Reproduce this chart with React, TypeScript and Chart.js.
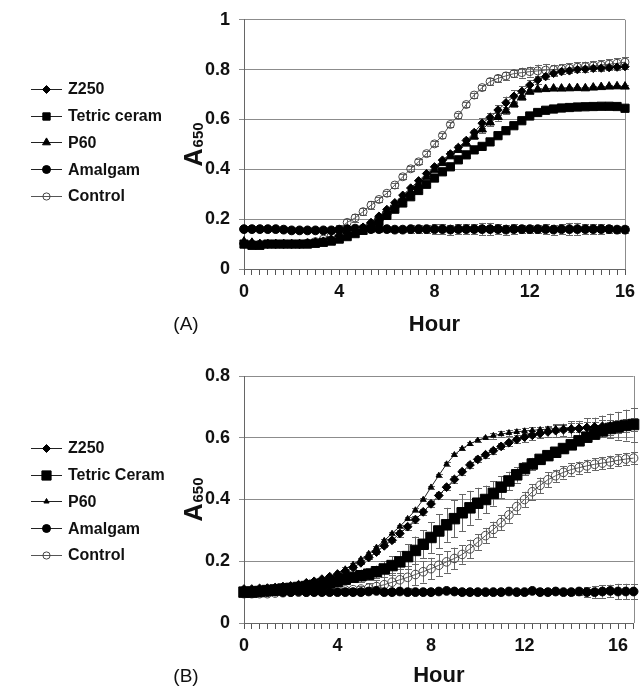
import React, { useEffect, useRef } from 'react';
import { Chart, registerables } from 'chart.js';

Chart.register(...registerables);

const FONT = "'Liberation Sans', Arial, Helvetica, sans-serif";

// ---------- categories / ticks ----------
const HOURS_A = Array.from({ length: 49 }, (_, i) => i / 3);
const HOURS_B = Array.from({ length: 51 }, (_, i) => i / 3);
const X_LABELS = [0, 4, 8, 12, 16];
const Y_TICKS_A = [0, 0.2, 0.4, 0.6, 0.8, 1];
const Y_TICKS_B = [0, 0.2, 0.4, 0.6, 0.8];
const SERIES_A = ['Z250', 'Tetric ceram', 'P60', 'Amalgam', 'Control'];
const SERIES_B = ['Z250', 'Tetric Ceram', 'P60', 'Amalgam', 'Control'];

// ---------- panel A values ----------
const Z250_A = [0.105,0.105,0.10,0.10,0.10,0.10,0.10,0.10,0.105,0.108,0.112,0.12,0.133,0.145,0.156,0.168,0.187,0.212,0.239,0.266,0.296,0.325,0.354,0.383,0.41,0.437,0.462,0.488,0.516,0.548,0.585,0.608,0.638,0.667,0.693,0.713,0.738,0.758,0.772,0.785,0.792,0.795,0.80,0.802,0.805,0.806,0.808,0.81,0.812];
const TETRIC_A = [0.10,0.095,0.095,0.10,0.10,0.10,0.10,0.10,0.10,0.103,0.107,0.112,0.12,0.13,0.142,0.155,0.17,0.19,0.215,0.24,0.265,0.29,0.315,0.34,0.365,0.39,0.41,0.438,0.458,0.478,0.492,0.51,0.535,0.555,0.575,0.595,0.614,0.628,0.637,0.642,0.646,0.648,0.65,0.651,0.652,0.653,0.653,0.652,0.645];
const P60_A = [0.11,0.105,0.10,0.10,0.10,0.10,0.10,0.10,0.10,0.105,0.108,0.115,0.125,0.137,0.15,0.163,0.18,0.203,0.228,0.255,0.283,0.31,0.34,0.37,0.398,0.425,0.452,0.478,0.505,0.532,0.56,0.588,0.61,0.635,0.662,0.69,0.712,0.72,0.722,0.724,0.724,0.725,0.726,0.725,0.728,0.73,0.732,0.733,0.732];
const AMALGAM_A = [0.16,0.16,0.16,0.16,0.16,0.158,0.155,0.155,0.155,0.155,0.155,0.155,0.157,0.16,0.162,0.162,0.16,0.16,0.16,0.158,0.158,0.16,0.16,0.16,0.16,0.16,0.158,0.16,0.16,0.16,0.16,0.16,0.16,0.158,0.16,0.16,0.16,0.16,0.16,0.158,0.16,0.16,0.16,0.16,0.16,0.16,0.16,0.158,0.158];
const CONTROL_A = [0.10,0.10,0.10,0.10,0.10,0.10,0.10,0.10,0.105,0.11,0.12,0.135,0.16,0.187,0.205,0.23,0.256,0.279,0.304,0.337,0.37,0.402,0.43,0.463,0.502,0.536,0.58,0.617,0.66,0.698,0.728,0.752,0.765,0.775,0.784,0.788,0.792,0.795,0.798,0.80,0.803,0.806,0.81,0.812,0.815,0.818,0.822,0.825,0.83];

const ERR_Z250_A = [0.005,0.005,0.005,0.005,0.005,0.005,0.005,0.005,0.005,0.005,0.005,0.005,0.005,0.005,0.005,0.005,0.005,0.005,0.005,0.005,0.005,0.005,0.005,0.005,0.005,0.005,0.01,0.01,0.01,0.01,0.02,0.02,0.02,0.025,0.025,0.02,0.02,0.015,0.01,0.01,0.01,0.01,0.01,0.01,0.01,0.01,0.01,0.01,0.01];
const ERR_TETRIC_A = [0.005,0.005,0.005,0.005,0.005,0.005,0.005,0.005,0.005,0.005,0.005,0.005,0.005,0.005,0.005,0.005,0.005,0.005,0.005,0.005,0.005,0.005,0.005,0.005,0.005,0.005,0.005,0.005,0.01,0.01,0.01,0.01,0.01,0.01,0.005,0.005,0.005,0.005,0.005,0.005,0.005,0.005,0.005,0.005,0.005,0.005,0.005,0.005,0.005];
const ERR_P60_A = [0.005,0.005,0.005,0.005,0.005,0.005,0.005,0.005,0.005,0.005,0.005,0.005,0.005,0.005,0.005,0.005,0.005,0.005,0.005,0.005,0.005,0.005,0.005,0.005,0.005,0.005,0.005,0.01,0.01,0.01,0.015,0.015,0.015,0.015,0.01,0.01,0.01,0.005,0.005,0.005,0.005,0.005,0.005,0.005,0.005,0.005,0.005,0.005,0.005];
const ERR_AMALGAM_A = [0.005,0.005,0.005,0.005,0.005,0.005,0.005,0.005,0.005,0.005,0.005,0.005,0.005,0.005,0.005,0.005,0.01,0.01,0.01,0.01,0.01,0.015,0.015,0.015,0.02,0.02,0.02,0.02,0.02,0.02,0.025,0.025,0.02,0.02,0.02,0.015,0.015,0.015,0.02,0.02,0.02,0.025,0.025,0.02,0.02,0.02,0.015,0.015,0.015];
const ERR_CONTROL_A = [0.005,0.005,0.005,0.005,0.005,0.005,0.005,0.005,0.005,0.005,0.005,0.01,0.015,0.015,0.015,0.015,0.015,0.01,0.01,0.01,0.01,0.01,0.01,0.01,0.01,0.01,0.01,0.01,0.01,0.01,0.01,0.015,0.015,0.015,0.015,0.02,0.02,0.025,0.025,0.02,0.02,0.02,0.02,0.02,0.02,0.02,0.02,0.02,0.02];

// ---------- panel B values ----------
const Z250_B = [0.11,0.11,0.112,0.113,0.115,0.118,0.12,0.124,0.13,0.135,0.142,0.15,0.158,0.168,0.18,0.195,0.212,0.23,0.25,0.268,0.29,0.312,0.335,0.36,0.386,0.413,0.44,0.465,0.49,0.512,0.53,0.545,0.558,0.572,0.584,0.594,0.602,0.608,0.614,0.619,0.623,0.626,0.628,0.63,0.633,0.635,0.637,0.638,0.639,0.641,0.642];
const TETRIC_B = [0.10,0.10,0.102,0.105,0.107,0.11,0.112,0.115,0.118,0.122,0.126,0.13,0.135,0.142,0.148,0.153,0.158,0.166,0.175,0.186,0.198,0.215,0.235,0.255,0.277,0.298,0.318,0.338,0.357,0.373,0.388,0.40,0.42,0.44,0.46,0.48,0.50,0.515,0.53,0.542,0.553,0.565,0.577,0.59,0.602,0.612,0.622,0.63,0.635,0.64,0.643];
const P60_B = [0.105,0.105,0.107,0.11,0.112,0.115,0.118,0.122,0.127,0.133,0.14,0.148,0.162,0.175,0.19,0.207,0.225,0.245,0.267,0.29,0.313,0.338,0.366,0.40,0.44,0.478,0.515,0.545,0.565,0.58,0.592,0.60,0.607,0.612,0.616,0.619,0.622,0.624,0.626,0.628,0.63,0.632,0.633,0.634,0.635,0.636,0.637,0.638,0.639,0.64,0.641];
const AMALGAM_B = [0.10,0.10,0.10,0.10,0.102,0.10,0.10,0.102,0.10,0.10,0.10,0.10,0.10,0.10,0.10,0.10,0.102,0.104,0.10,0.10,0.102,0.10,0.10,0.10,0.10,0.102,0.104,0.102,0.10,0.10,0.10,0.10,0.10,0.10,0.102,0.10,0.10,0.104,0.10,0.10,0.102,0.10,0.10,0.102,0.10,0.10,0.102,0.104,0.102,0.102,0.102];
const CONTROL_B = [0.095,0.095,0.095,0.095,0.097,0.098,0.10,0.10,0.10,0.102,0.103,0.104,0.105,0.107,0.108,0.11,0.113,0.118,0.124,0.132,0.14,0.148,0.157,0.166,0.176,0.187,0.198,0.209,0.222,0.24,0.262,0.283,0.303,0.325,0.35,0.377,0.40,0.425,0.446,0.464,0.477,0.488,0.497,0.503,0.509,0.514,0.518,0.522,0.527,0.531,0.534];

const ERR_Z250_B = [0.005,0.005,0.005,0.005,0.005,0.005,0.005,0.005,0.005,0.005,0.005,0.005,0.005,0.005,0.005,0.005,0.005,0.005,0.005,0.005,0.01,0.01,0.01,0.01,0.01,0.01,0.01,0.01,0.01,0.01,0.01,0.01,0.01,0.01,0.01,0.01,0.015,0.015,0.015,0.015,0.02,0.02,0.025,0.025,0.03,0.03,0.035,0.04,0.045,0.05,0.055];
const ERR_TETRIC_B = [0.005,0.005,0.005,0.005,0.005,0.005,0.005,0.005,0.005,0.005,0.005,0.005,0.01,0.015,0.015,0.02,0.02,0.02,0.025,0.03,0.035,0.04,0.045,0.045,0.05,0.055,0.055,0.06,0.06,0.055,0.05,0.045,0.04,0.035,0.03,0.025,0.02,0.02,0.015,0.015,0.015,0.015,0.015,0.015,0.015,0.015,0.02,0.02,0.02,0.02,0.02];
const ERR_P60_B = [0.005,0.005,0.005,0.005,0.005,0.005,0.005,0.005,0.005,0.005,0.005,0.005,0.005,0.005,0.005,0.005,0.005,0.005,0.005,0.005,0.005,0.005,0.005,0.005,0.005,0.005,0.005,0.005,0.005,0.005,0.005,0.005,0.01,0.01,0.01,0.01,0.01,0.01,0.01,0.01,0.01,0.01,0.015,0.015,0.015,0.015,0.02,0.02,0.02,0.02,0.02];
const ERR_AMALGAM_B = [0.005,0.005,0.005,0.005,0.005,0.005,0.005,0.005,0.005,0.005,0.005,0.005,0.005,0.005,0.005,0.005,0.005,0.005,0.005,0.005,0.005,0.005,0.005,0.005,0.005,0.005,0.005,0.005,0.005,0.005,0.005,0.005,0.005,0.005,0.005,0.005,0.005,0.005,0.005,0.005,0.005,0.005,0.01,0.01,0.015,0.02,0.02,0.02,0.025,0.025,0.025];
const ERR_CONTROL_B = [0.005,0.005,0.005,0.005,0.005,0.005,0.005,0.005,0.005,0.005,0.005,0.005,0.005,0.005,0.005,0.01,0.015,0.02,0.025,0.03,0.035,0.035,0.035,0.035,0.035,0.035,0.035,0.035,0.03,0.03,0.025,0.025,0.025,0.025,0.025,0.025,0.025,0.025,0.025,0.025,0.02,0.02,0.02,0.02,0.02,0.02,0.02,0.02,0.02,0.02,0.02];

// ---------- styles ----------
type MStyle = { pointStyle: string; radius: number; fill: string; stroke: string; line: string; legendRadius: number };
const STYLES_A: MStyle[] = [
  { pointStyle: 'rectRot', radius: 4.2, fill: '#000', stroke: '#000', line: '#222', legendRadius: 4 },
  { pointStyle: 'rect', radius: 5.8, fill: '#000', stroke: '#000', line: '#222', legendRadius: 5.2 },
  { pointStyle: 'triangle', radius: 5, fill: '#000', stroke: '#000', line: '#222', legendRadius: 4.6 },
  { pointStyle: 'circle', radius: 4.4, fill: '#000', stroke: '#000', line: '#222', legendRadius: 4 },
  { pointStyle: 'circle', radius: 4, fill: 'rgba(255,255,255,0)', stroke: '#444', line: '#555', legendRadius: 3.6 },
];
const STYLES_B: MStyle[] = [
  { pointStyle: 'rectRot', radius: 4.4, fill: '#000', stroke: '#000', line: '#222', legendRadius: 4 },
  { pointStyle: 'rect', radius: 7.4, fill: '#000', stroke: '#000', line: '#222', legendRadius: 6.5 },
  { pointStyle: 'triangle', radius: 3.2, fill: '#000', stroke: '#000', line: '#222', legendRadius: 3 },
  { pointStyle: 'circle', radius: 4.4, fill: '#000', stroke: '#000', line: '#222', legendRadius: 4 },
  { pointStyle: 'circle', radius: 4.3, fill: 'rgba(255,255,255,0)', stroke: '#444', line: '#555', legendRadius: 3.6 },
];

type Panel = {
  hours: number[];
  names: string[];
  values: number[][];
  errors: number[][];
  styles: MStyle[];
  yMax: number;
  yTicks: number[];
  letter: string;
  height: number;
  padding: { left: number; right: number; top: number; bottom: number };
  xAxisHeight: number;
  titlePad: number;
  legendTop: number;
  letterY: number;
};

const PANEL_A: Panel = {
  hours: HOURS_A,
  names: SERIES_A,
  values: [Z250_A, TETRIC_A, P60_A, AMALGAM_A, CONTROL_A],
  errors: [ERR_Z250_A, ERR_TETRIC_A, ERR_P60_A, ERR_AMALGAM_A, ERR_CONTROL_A],
  styles: STYLES_A,
  yMax: 1,
  yTicks: Y_TICKS_A,
  letter: '(A)',
  height: 340,
  padding: { left: 184, right: 17, top: 16, bottom: 0 },
  xAxisHeight: 71,
  titlePad: 2,
  legendTop: 89,
  letterY: 325,
};

const PANEL_B: Panel = {
  hours: HOURS_B,
  names: SERIES_B,
  values: [Z250_B, TETRIC_B, P60_B, AMALGAM_B, CONTROL_B],
  errors: [ERR_Z250_B, ERR_TETRIC_B, ERR_P60_B, ERR_AMALGAM_B, ERR_CONTROL_B],
  styles: STYLES_B,
  yMax: 0.8,
  yTicks: Y_TICKS_B,
  letter: '(B)',
  height: 349,
  padding: { left: 184, right: 4, top: 36, bottom: 0 },
  xAxisHeight: 66,
  titlePad: 0,
  legendTop: 108,
  letterY: 337,
};

function drawMarker(ctx: CanvasRenderingContext2D, s: MStyle, x: number, y: number, r: number) {
  ctx.save();
  ctx.lineWidth = 1;
  ctx.strokeStyle = s.stroke;
  ctx.fillStyle = s.fill;
  ctx.beginPath();
  if (s.pointStyle === 'rectRot') {
    ctx.moveTo(x, y - r);
    ctx.lineTo(x + r, y);
    ctx.lineTo(x, y + r);
    ctx.lineTo(x - r, y);
    ctx.closePath();
  } else if (s.pointStyle === 'rect') {
    const h = Math.SQRT1_2 * r;
    ctx.rect(x - h, y - h, 2 * h, 2 * h);
  } else if (s.pointStyle === 'triangle') {
    ctx.moveTo(x, y - r);
    ctx.lineTo(x + 0.866 * r, y + 0.5 * r);
    ctx.lineTo(x - 0.866 * r, y + 0.5 * r);
    ctx.closePath();
  } else {
    ctx.arc(x, y, r, 0, Math.PI * 2);
  }
  ctx.fill();
  ctx.stroke();
  ctx.restore();
}

function makeDecor(p: Panel) {
  return {
    id: 'panelDecor',
    beforeDatasetsDraw(chart: any) {
      const { ctx, chartArea } = chart;
      const yScale = chart.scales.y;
      ctx.save();
      // right frame line
      ctx.strokeStyle = '#8c8c8c';
      ctx.lineWidth = 1;
      ctx.beginPath();
      ctx.moveTo(Math.round(chartArea.right) + 0.5, chartArea.top);
      ctx.lineTo(Math.round(chartArea.right) + 0.5, chartArea.bottom);
      ctx.stroke();
      // error bars
      ctx.strokeStyle = '#666';
      chart.data.datasets.forEach((ds: any, di: number) => {
        const meta = chart.getDatasetMeta(di);
        const errs: number[] = p.errors[di];
        meta.data.forEach((pt: any, i: number) => {
          const e = errs[i];
          const v = ds.data[i];
          if (!e || v == null) return;
          const x = Math.round(pt.x) + 0.5;
          const y1 = yScale.getPixelForValue(v + e);
          const y2 = yScale.getPixelForValue(v - e);
          ctx.beginPath();
          ctx.moveTo(x, y1);
          ctx.lineTo(x, y2);
          ctx.moveTo(x - 3.5, Math.round(y1) + 0.5);
          ctx.lineTo(x + 3.5, Math.round(y1) + 0.5);
          ctx.moveTo(x - 3.5, Math.round(y2) + 0.5);
          ctx.lineTo(x + 3.5, Math.round(y2) + 0.5);
          ctx.stroke();
        });
      });
      ctx.restore();
    },
    afterDraw(chart: any) {
      const { ctx, chartArea } = chart;
      ctx.save();
      // legend
      p.names.forEach((name, i) => {
        const y = p.legendTop + i * 26.7;
        const s = p.styles[i];
        ctx.strokeStyle = s.line;
        ctx.lineWidth = 1;
        ctx.beginPath();
        ctx.moveTo(31, Math.round(y) + 0.5);
        ctx.lineTo(62, Math.round(y) + 0.5);
        ctx.stroke();
        drawMarker(ctx, s, 46.5, Math.round(y) + 0.5, s.legendRadius);
        ctx.fillStyle = '#111';
        ctx.font = `bold 16px ${FONT}`;
        ctx.textAlign = 'left';
        ctx.textBaseline = 'middle';
        ctx.fillText(name, 68, y + 1);
      });
      // y-axis title A650 (rotated)
      ctx.save();
      ctx.translate(202, (chartArea.top + chartArea.bottom) / 2);
      ctx.rotate(-Math.PI / 2);
      ctx.fillStyle = '#111';
      ctx.textAlign = 'left';
      ctx.textBaseline = 'alphabetic';
      ctx.font = `bold 25px ${FONT}`;
      const wA = ctx.measureText('A').width;
      ctx.font = `bold 15px ${FONT}`;
      const wS = ctx.measureText('650').width;
      const start = -(wA + wS + 1) / 2;
      ctx.font = `bold 25px ${FONT}`;
      ctx.fillText('A', start, 0);
      ctx.font = `bold 15px ${FONT}`;
      ctx.fillText('650', start + wA + 1, 1);
      ctx.restore();
      // panel letter
      ctx.fillStyle = '#111';
      ctx.font = `19px ${FONT}`;
      ctx.textAlign = 'center';
      ctx.textBaseline = 'middle';
      ctx.fillText(p.letter, 186, p.letterY);
      ctx.restore();
    },
  };
}

function buildConfig(p: Panel): any {
  return {
    type: 'line',
    data: {
      labels: p.hours,
      datasets: p.names.map((name, i) => {
        const s = p.styles[i];
        return {
          label: name,
          data: p.values[i],
          borderColor: s.line,
          borderWidth: 1,
          pointStyle: s.pointStyle,
          pointRadius: s.radius,
          pointBackgroundColor: s.fill,
          pointBorderColor: s.stroke,
          pointBorderWidth: 1,
          tension: 0,
          fill: false,
          clip: false,
        };
      }),
    },
    options: {
      animation: false,
      responsive: false,
      devicePixelRatio: 1,
      events: [],
      layout: { padding: p.padding },
      plugins: { legend: { display: false }, tooltip: { enabled: false }, title: { display: false } },
      scales: {
        x: {
          type: 'category',
          offset: false,
          grid: { display: true, drawOnChartArea: false, drawTicks: true, tickLength: 6, color: '#555', offset: false },
          border: { display: true, color: '#666', width: 1 },
          ticks: {
            autoSkip: false,
            maxRotation: 0,
            minRotation: 0,
            padding: 6,
            color: '#111',
            font: { family: FONT, size: 18, weight: 'bold' },
            callback: (_v: any, idx: number) => {
              const h = p.hours[idx];
              const m = X_LABELS.find((l) => Math.abs(l - h) < 1e-6);
              return m === undefined ? '' : String(m);
            },
          },
          title: {
            display: true,
            text: 'Hour',
            color: '#111',
            font: { family: FONT, size: 22, weight: 'bold' },
            padding: { top: 0, bottom: p.titlePad },
          },
          afterFit: (s: any) => {
            s.height = p.xAxisHeight;
          },
        },
        y: {
          type: 'linear',
          min: 0,
          max: p.yMax,
          afterBuildTicks: (s: any) => {
            s.ticks = p.yTicks.map((v) => ({ value: v }));
          },
          grid: { color: '#8c8c8c', lineWidth: 1, tickLength: 5, drawTicks: true },
          border: { display: true, color: '#666', width: 1 },
          ticks: {
            padding: 9,
            color: '#111',
            font: { family: FONT, size: 18, weight: 'bold' },
            callback: (v: any) => String(Number(Number(v).toFixed(1))),
          },
          afterFit: (s: any) => {
            s.width = 60;
          },
        },
      },
    },
    plugins: [makeDecor(p)],
  };
}

export default function App() {
  const refA = useRef<HTMLCanvasElement>(null);
  const refB = useRef<HTMLCanvasElement>(null);
  useEffect(() => {
    const a = new Chart(refA.current as HTMLCanvasElement, buildConfig(PANEL_A));
    const b = new Chart(refB.current as HTMLCanvasElement, buildConfig(PANEL_B));
    return () => {
      a.destroy();
      b.destroy();
    };
  }, []);
  return (
    <div style={{ position: 'absolute', left: 0, top: 0, width: 642, height: 689, background: '#fff', overflow: 'hidden' }}>
      <canvas
        ref={refA}
        width={642}
        height={PANEL_A.height}
        style={{ position: 'absolute', left: 0, top: 0, width: 642, height: PANEL_A.height }}
      />
      <canvas
        ref={refB}
        width={642}
        height={PANEL_B.height}
        style={{ position: 'absolute', left: 0, top: PANEL_A.height, width: 642, height: PANEL_B.height }}
      />
    </div>
  );
}
